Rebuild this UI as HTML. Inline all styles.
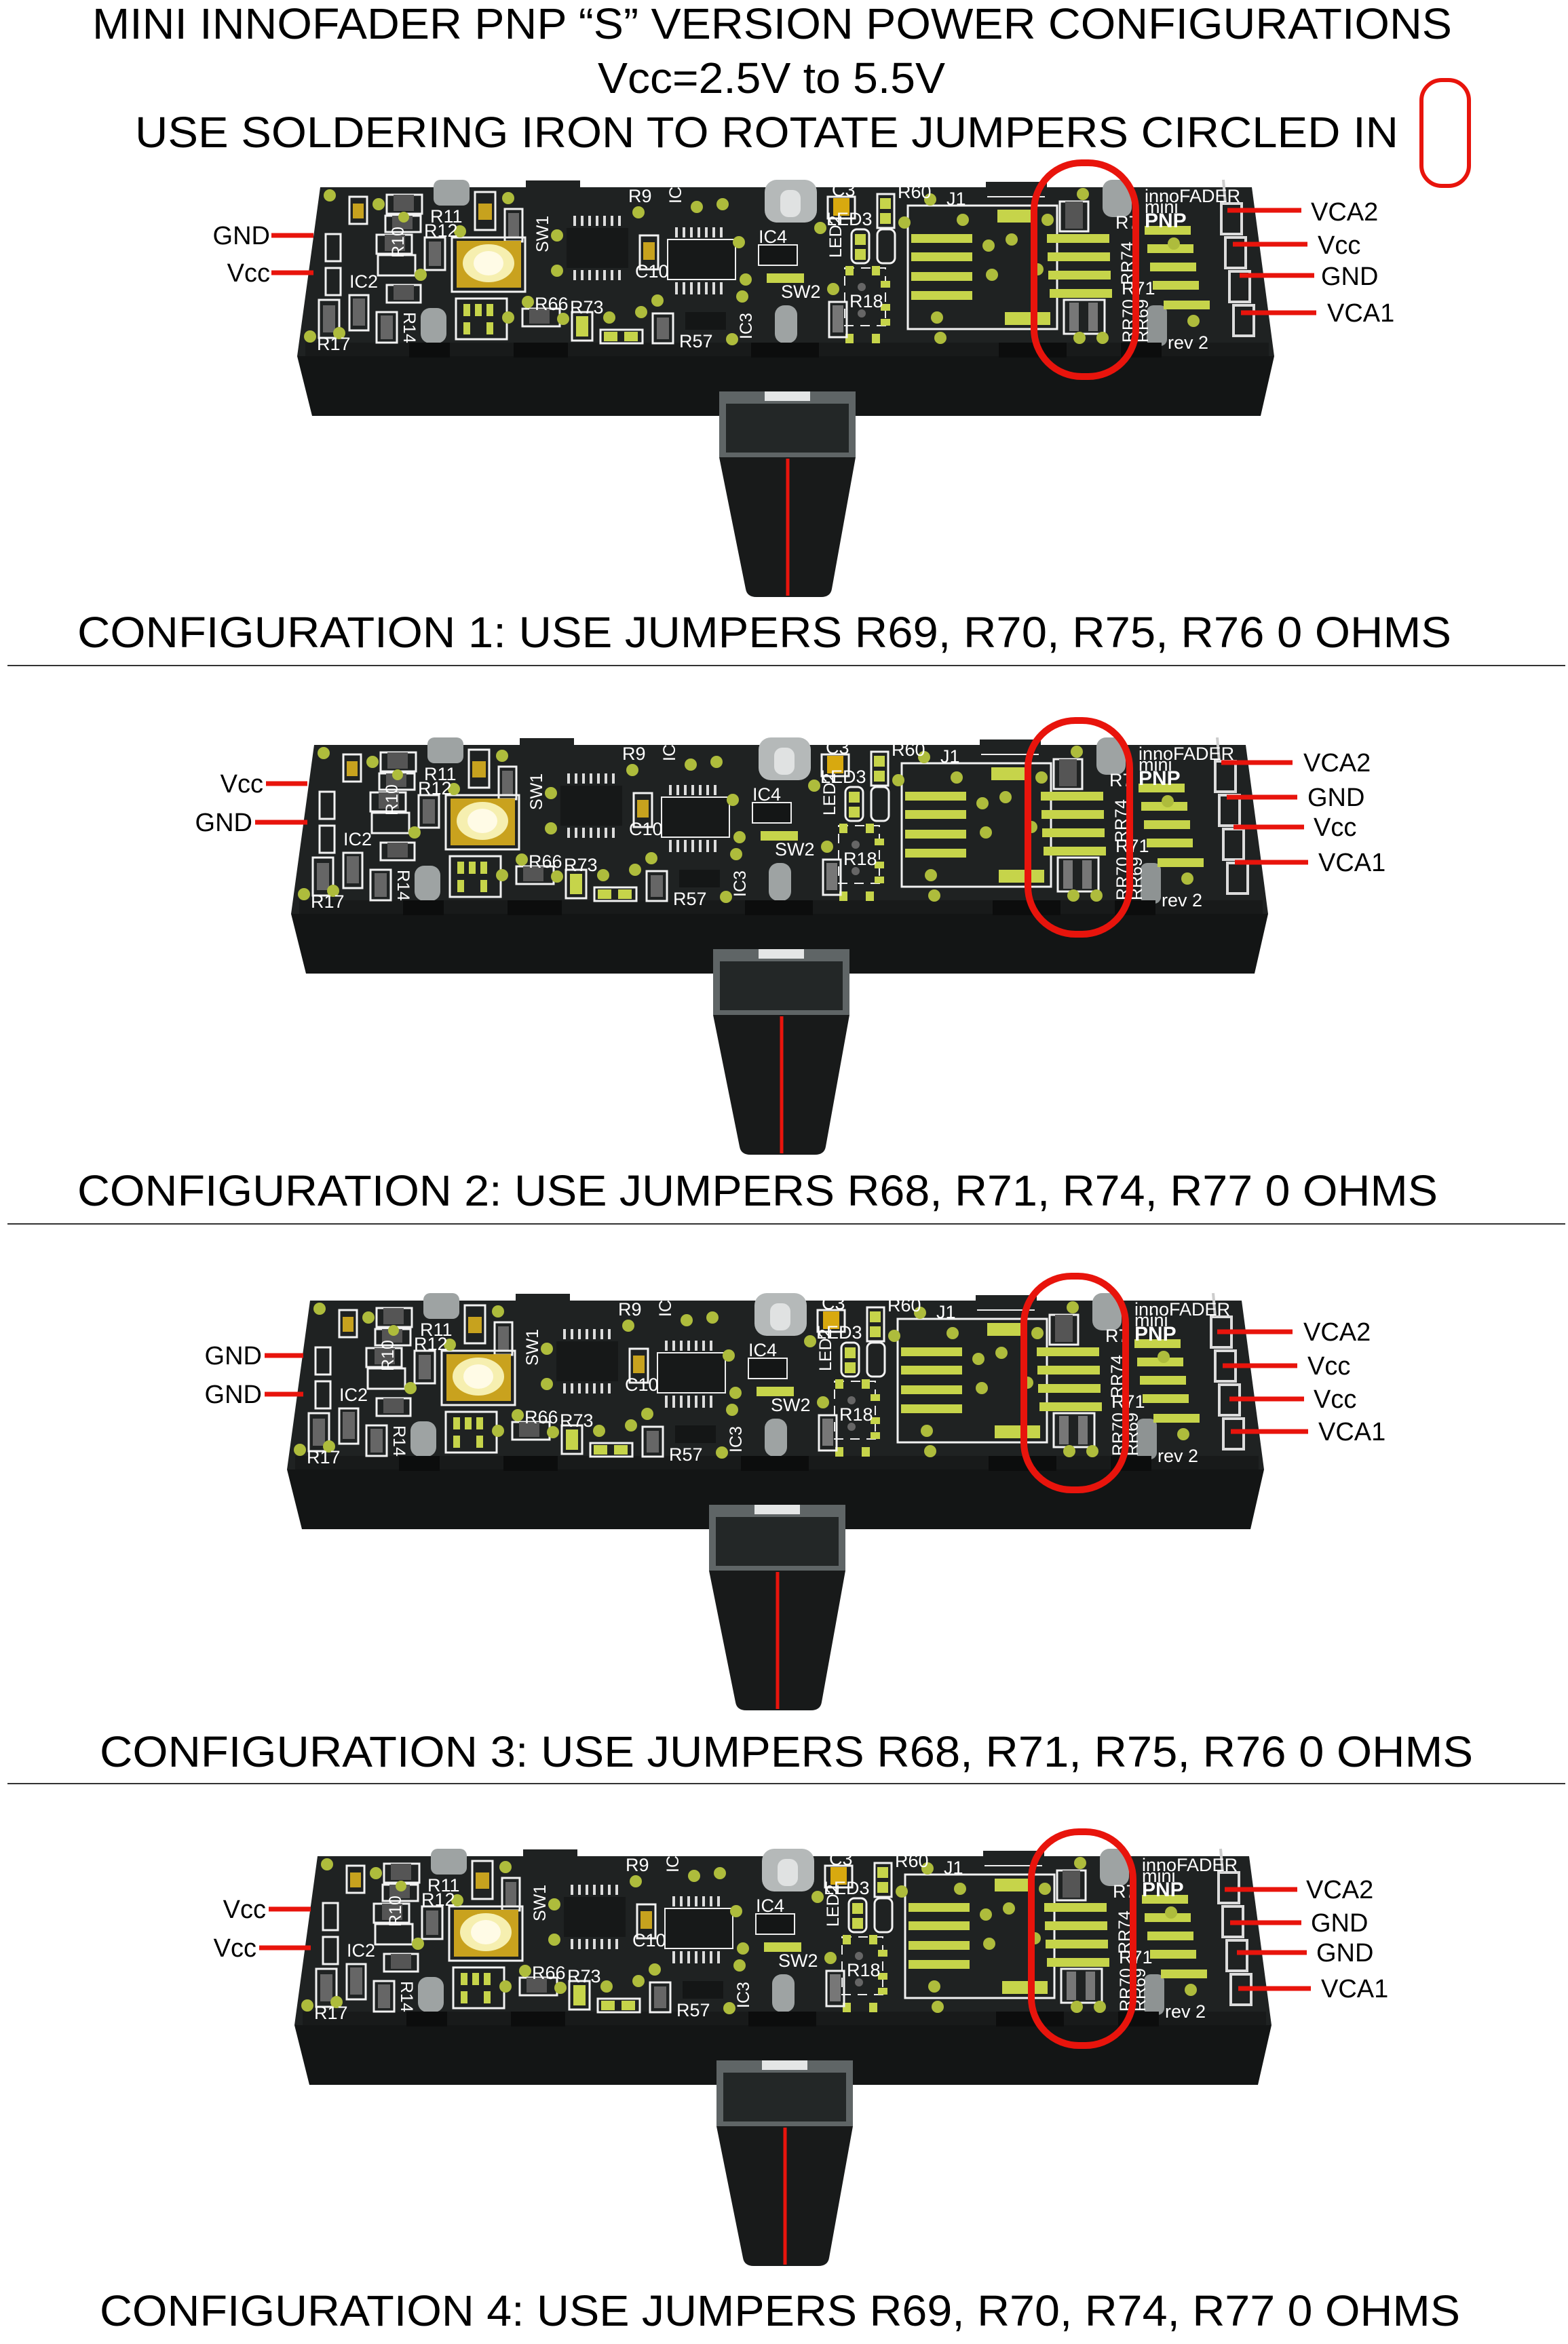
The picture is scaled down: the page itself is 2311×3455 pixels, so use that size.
<!DOCTYPE html>
<html><head><meta charset="utf-8"><style>
html,body{margin:0;padding:0;background:#fff;}
svg{display:block;}
text{font-family:"Liberation Sans",sans-serif;}
.t{font-size:64px;fill:#000;}
.lb{font-size:38px;fill:#000;}
.sk{font-size:27px;fill:#fff;font-family:"Liberation Mono",monospace;}
.dot{fill:#aebc3c;}
.pad{fill:#c6d44a;}
.wo{fill:none;stroke:#f2f2f2;stroke-width:3;}
.rl{stroke:#e8140c;stroke-width:7;}
</style></head><body>
<svg width="2311" height="3455" viewBox="0 0 2311 3455" xmlns="http://www.w3.org/2000/svg">
<defs>
<g id="board">
  <polygon points="438,525 1878,525 1858,613 460,613" fill="#131515"/>
  <polygon points="472,276 1845,276 1878,525 438,525" fill="#1f2222"/>
  <rect x="450" y="505" width="1420" height="20" fill="#181a1a"/>
  <rect x="775" y="266" width="80" height="12" fill="#1f2222"/>
  <rect x="1453" y="268" width="90" height="10" fill="#1f2222"/>
  <rect x="639" y="265" width="53" height="38" rx="10" fill="#9ea3a3"/>
  <rect x="1127" y="265" width="77" height="63" rx="18" fill="#b5b9b9"/>
  <rect x="1150" y="280" width="30" height="40" rx="12" fill="#e0e2e2"/>
  <rect x="1625" y="265" width="43" height="55" rx="14" fill="#9ea3a3"/>
  <rect x="620" y="454" width="38" height="52" rx="14" fill="#9ea3a3"/>
  <rect x="1142" y="450" width="33" height="56" rx="14" fill="#9ea3a3"/>
  <rect x="1690" y="450" width="30" height="60" rx="10" fill="#8e9393"/>
  <rect x="603" y="505" width="60" height="22" fill="#0c0d0d"/>
  <rect x="757" y="505" width="80" height="22" fill="#0c0d0d"/>
  <rect x="1107" y="505" width="100" height="22" fill="#0c0d0d"/>
  <rect x="1472" y="505" width="100" height="22" fill="#0c0d0d"/>
  <rect x="1652" y="505" width="60" height="22" fill="#0c0d0d"/>
  <rect x="480" y="345" width="22" height="40" class="wo"/>
  <rect x="480" y="395" width="22" height="40" class="wo"/>
  <rect x="1800" y="300" width="30" height="45" fill="none" stroke="#ddd" stroke-width="4"/>
  <rect x="1806" y="350" width="30" height="45" fill="none" stroke="#ddd" stroke-width="4"/>
  <rect x="1812" y="400" width="30" height="45" fill="none" stroke="#ddd" stroke-width="4"/>
  <rect x="1818" y="450" width="30" height="45" fill="none" stroke="#ddd" stroke-width="4"/>
  <line x1="1803" y1="265" x2="1806" y2="300" stroke="#ccc" stroke-width="4"/>
  <rect x="515" y="290" width="26" height="40" class="wo"/><rect x="520" y="300" width="16" height="22" fill="#c7a21e"/>
  <rect x="570" y="287" width="52" height="28" class="wo"/><rect x="580" y="287" width="30" height="24" fill="#555"/>
  <rect x="568" y="318" width="52" height="24" class="wo"/><rect x="578" y="318" width="30" height="20" fill="#555"/>
  <rect x="555" y="346" width="52" height="28" class="wo"/><rect x="567" y="346" width="30" height="24" fill="#555"/>
  <rect x="557" y="376" width="55" height="30" class="wo"/>
  <rect x="626" y="350" width="30" height="48" class="wo"/><rect x="632" y="356" width="18" height="36" fill="#666"/>
  <rect x="700" y="283" width="30" height="56" class="wo"/><rect x="705" y="300" width="20" height="24" fill="#c7a21e"/>
  <rect x="744" y="308" width="26" height="48" class="wo"/><rect x="749" y="314" width="16" height="36" fill="#666"/>
  <rect x="570" y="420" width="50" height="26" class="wo"/><rect x="580" y="420" width="30" height="22" fill="#555"/>
  <rect x="470" y="442" width="30" height="56" class="wo"/><rect x="476" y="450" width="18" height="40" fill="#666"/>
  <rect x="515" y="435" width="28" height="52" class="wo"/><rect x="520" y="440" width="18" height="40" fill="#666"/>
  <rect x="555" y="460" width="30" height="45" class="wo"/><rect x="561" y="465" width="18" height="35" fill="#666"/>
  <rect x="666" y="350" width="108" height="80" class="wo"/>
  <rect x="673" y="355" width="95" height="69" fill="#c9a21e"/>
  <ellipse cx="720" cy="388" rx="38" ry="28" fill="#f6efb0"/>
  <ellipse cx="720" cy="388" rx="22" ry="18" fill="#fffbe6"/>
  <rect x="672" y="440" width="75" height="60" class="wo"/>
  <rect x="683" y="448" width="10" height="18" class="pad"/><rect x="700" y="448" width="10" height="18" class="pad"/><rect x="717" y="448" width="10" height="18" class="pad"/>
  <rect x="683" y="475" width="10" height="18" class="pad"/><rect x="717" y="475" width="10" height="18" class="pad"/>
  <rect x="770" y="455" width="55" height="26" class="wo"/><rect x="780" y="455" width="30" height="22" fill="#555"/>
  <rect x="843" y="460" width="30" height="42" class="wo"/><rect x="849" y="466" width="18" height="30" class="pad"/>
  <rect x="885" y="486" width="62" height="20" class="wo"/><rect x="890" y="489" width="20" height="14" class="pad"/><rect x="920" y="489" width="20" height="14" class="pad"/>
  <rect x="962" y="462" width="30" height="44" class="wo"/><rect x="968" y="468" width="18" height="32" fill="#666"/>
  <rect x="835" y="336" width="91" height="59" fill="#161818"/>
  <g fill="#ddd"><rect x="845" y="318" width="4" height="15"/><rect x="856" y="318" width="4" height="15"/><rect x="867" y="318" width="4" height="15"/><rect x="878" y="318" width="4" height="15"/><rect x="889" y="318" width="4" height="15"/><rect x="900" y="318" width="4" height="15"/><rect x="911" y="318" width="4" height="15"/>
  <rect x="845" y="398" width="4" height="15"/><rect x="856" y="398" width="4" height="15"/><rect x="867" y="398" width="4" height="15"/><rect x="878" y="398" width="4" height="15"/><rect x="889" y="398" width="4" height="15"/><rect x="900" y="398" width="4" height="15"/><rect x="911" y="398" width="4" height="15"/></g>
  <rect x="943" y="347" width="27" height="50" class="wo"/><rect x="948" y="357" width="17" height="26" fill="#c7a21e"/>
  <rect x="984" y="353" width="100" height="59" fill="#171919" stroke="#eee" stroke-width="2"/>
  <g fill="#ddd"><rect x="995" y="335" width="4" height="15"/><rect x="1006" y="335" width="4" height="15"/><rect x="1017" y="335" width="4" height="15"/><rect x="1028" y="335" width="4" height="15"/><rect x="1039" y="335" width="4" height="15"/><rect x="1050" y="335" width="4" height="15"/><rect x="1061" y="335" width="4" height="15"/>
  <rect x="995" y="416" width="4" height="18"/><rect x="1006" y="416" width="4" height="18"/><rect x="1017" y="416" width="4" height="18"/><rect x="1028" y="416" width="4" height="18"/><rect x="1039" y="416" width="4" height="18"/><rect x="1050" y="416" width="4" height="18"/><rect x="1061" y="416" width="4" height="18"/></g>
  <rect x="1118" y="361" width="57" height="30" fill="#141616" stroke="#eee" stroke-width="2"/>
  <rect x="1130" y="403" width="55" height="14" class="pad"/>
  <rect x="1010" y="460" width="60" height="26" fill="#141616"/>
  <rect x="1220" y="290" width="40" height="32" class="wo"/><rect x="1228" y="292" width="24" height="26" fill="#d8a90f"/>
  <rect x="1293" y="286" width="25" height="50" class="wo"/><rect x="1297" y="292" width="16" height="16" class="pad"/><rect x="1297" y="314" width="16" height="16" class="pad"/>
  <rect x="1255" y="338" width="26" height="50" rx="8" class="wo"/><rect x="1260" y="345" width="16" height="16" class="pad"/><rect x="1260" y="367" width="16" height="16" class="pad"/>
  <rect x="1293" y="338" width="26" height="50" rx="8" class="wo"/>
  <rect x="1245" y="395" width="60" height="85" fill="none" stroke="#eee" stroke-width="2" stroke-dasharray="14 10"/>
  <rect x="1246" y="392" width="12" height="14" class="pad"/><rect x="1285" y="392" width="12" height="14" class="pad"/>
  <rect x="1298" y="414" width="14" height="10" class="pad"/><rect x="1298" y="448" width="14" height="10" class="pad"/><rect x="1298" y="470" width="14" height="10" class="pad"/>
  <rect x="1246" y="492" width="12" height="14" class="pad"/><rect x="1285" y="492" width="12" height="14" class="pad"/>
  <circle cx="1270" cy="423" r="6" fill="#666"/><circle cx="1270" cy="462" r="6" fill="#666"/>
  <rect x="1222" y="445" width="26" height="52" class="wo"/><rect x="1227" y="450" width="16" height="40" fill="#777"/>
  <rect x="1338" y="303" width="220" height="182" fill="none" stroke="#f2f2f2" stroke-width="3"/>
  <rect x="1343" y="345" width="90" height="13" class="pad"/><rect x="1343" y="372" width="90" height="13" class="pad"/>
  <rect x="1343" y="401" width="90" height="13" class="pad"/><rect x="1343" y="429" width="90" height="13" class="pad"/>
  <rect x="1470" y="309" width="55" height="19" class="pad"/><rect x="1481" y="460" width="67" height="19" class="pad"/>
  <line x1="1455" y1="290" x2="1540" y2="290" stroke="#eee" stroke-width="2"/>
  <rect x="1562" y="297" width="42" height="44" class="wo"/><rect x="1570" y="297" width="26" height="40" fill="#555"/>
  <rect x="1543" y="345" width="92" height="13" class="pad"/><rect x="1544" y="372" width="92" height="13" class="pad"/>
  <rect x="1545" y="399" width="92" height="13" class="pad"/><rect x="1547" y="426" width="92" height="13" class="pad"/>
  <rect x="1568" y="442" width="60" height="50" class="wo"/><rect x="1576" y="446" width="14" height="42" fill="#777"/><rect x="1604" y="446" width="14" height="42" fill="#777"/>
  <rect x="1687" y="333" width="68" height="13" class="pad"/><rect x="1691" y="360" width="68" height="13" class="pad"/>
  <rect x="1695" y="387" width="68" height="13" class="pad"/><rect x="1699" y="414" width="68" height="13" class="pad"/>
  <rect x="1715" y="443" width="68" height="13" class="pad"/>
  <g class="dot">
  <circle cx="486" cy="288" r="9"/><circle cx="558" cy="301" r="9"/><circle cx="749" cy="292" r="9"/><circle cx="678" cy="341" r="9"/>
  <circle cx="620" cy="405" r="9"/><circle cx="821" cy="347" r="9"/><circle cx="821" cy="399" r="9"/><circle cx="941" cy="313" r="9"/>
  <circle cx="1027" cy="305" r="9"/><circle cx="1065" cy="301" r="9"/><circle cx="1089" cy="357" r="9"/><circle cx="1099" cy="412" r="9"/>
  <circle cx="1094" cy="437" r="9"/><circle cx="969" cy="443" r="9"/><circle cx="898" cy="468" r="9"/><circle cx="945" cy="460" r="9"/>
  <circle cx="749" cy="468" r="9"/><circle cx="778" cy="445" r="9"/><circle cx="1079" cy="500" r="9"/><circle cx="1209" cy="336" r="9"/>
  <circle cx="1228" cy="426" r="9"/><circle cx="1333" cy="328" r="9"/><circle cx="1371" cy="294" r="9"/><circle cx="1419" cy="324" r="9"/>
  <circle cx="1491" cy="353" r="9"/><circle cx="1457" cy="362" r="9"/><circle cx="1462" cy="405" r="9"/><circle cx="1381" cy="468" r="9"/>
  <circle cx="1386" cy="498" r="9"/><circle cx="1544" cy="324" r="9"/><circle cx="1596" cy="286" r="9"/><circle cx="1529" cy="397" r="9"/>
  <circle cx="1591" cy="498" r="9"/><circle cx="1625" cy="498" r="9"/><circle cx="1730" cy="359" r="9"/><circle cx="1759" cy="473" r="9"/>
  <circle cx="457" cy="496" r="9"/><circle cx="500" cy="491" r="9"/><circle cx="595" cy="320" r="8"/><circle cx="830" cy="470" r="9"/>
  </g>
  <g class="sk">
  <text x="926" y="298">R9</text><text x="1118" y="358">IC4</text><text x="1151" y="439">SW2</text>
  <text x="1252" y="453">R18</text><text x="1323" y="292">R60</text><text x="1395" y="302">J1</text>
  <text x="1218" y="332">LED3</text><text x="1226" y="289">C3</text><text x="1001" y="512">R57</text>
  <text x="840" y="462">R73</text><text x="788" y="457">R66</text><text x="467" y="516">R17</text>
  <text x="515" y="424">IC2</text><text x="634" y="328">R11</text><text x="625" y="349">R12</text>
  <text x="936" y="409">C10</text><text x="1644" y="337">R7</text><text x="1653" y="434">R71</text>
  <text x="1687" y="298">innoFADER</text><text x="1687" y="314">mini</text>
  <text x="1721" y="514">rev 2</text>
  </g>
  <text x="1687" y="335" style="font-size:30px;fill:#fff;font-weight:bold;">PNP</text>
  <g class="sk" style="font-size:25px">
  <text transform="translate(595,380) rotate(-90)">R10</text>
  <text transform="translate(808,372) rotate(-90)">SW1</text>
  <text transform="translate(1004,300) rotate(-90)">IC18</text>
  <text transform="translate(595,460) rotate(90)">R14</text>
  <text transform="translate(1670,420) rotate(-90)">RR74</text>
  <text transform="translate(1672,505) rotate(-90)">RR70</text>
  <text transform="translate(1692,505) rotate(-90)">RR69</text>
  <text transform="translate(1108,500) rotate(-90)">IC3</text>
  <text transform="translate(1240,380) rotate(-90)">LED2</text>
  </g>
  <rect x="1060" y="577" width="201" height="97" fill="#5f6566"/>
  <rect x="1127" y="577" width="67" height="14" fill="#e4e6e6"/>
  <rect x="1070" y="595" width="181" height="72" fill="#232727"/>
  <path d="M1060,674 L1261,674 L1226,868 Q1224,880 1210,880 L1115,880 Q1101,880 1099,868 Z" fill="#181a1a"/>
  <line x1="1161" y1="676" x2="1161" y2="878" stroke="#e8140c" stroke-width="5"/>
  <rect x="1524" y="240" width="150" height="315" rx="70" fill="none" stroke="#e8140c" stroke-width="10"/>
</g>
</defs>

<text class="t" x="1138" y="57" text-anchor="middle" textLength="2004" lengthAdjust="spacingAndGlyphs">MINI INNOFADER PNP “S” VERSION POWER CONFIGURATIONS</text>
<text class="t" x="1137" y="137" text-anchor="middle" textLength="512" lengthAdjust="spacingAndGlyphs">Vcc=2.5V to 5.5V</text>
<text class="t" x="199" y="217" textLength="1862" lengthAdjust="spacingAndGlyphs">USE SOLDERING IRON TO ROTATE JUMPERS CIRCLED IN</text>
<rect x="2095" y="118" width="70" height="156" rx="30" fill="none" stroke="#e8140c" stroke-width="6"/>

<use href="#board"/>
<g class="lb">
<text x="398" y="360" text-anchor="end">GND</text><text x="398" y="415" text-anchor="end">Vcc</text>
<text x="1932" y="325">VCA2</text><text x="1942" y="374">Vcc</text><text x="1947" y="420">GND</text><text x="1956" y="474">VCA1</text>
</g>
<g class="rl">
<line x1="400" y1="347" x2="462" y2="347"/><line x1="400" y1="402" x2="462" y2="402"/>
<line x1="1809" y1="310" x2="1918" y2="310"/><line x1="1817" y1="360" x2="1927" y2="360"/>
<line x1="1827" y1="406" x2="1937" y2="406"/><line x1="1829" y1="461" x2="1940" y2="461"/>
</g>
<text class="t" x="114" y="954" textLength="2025" lengthAdjust="spacingAndGlyphs">CONFIGURATION 1: USE JUMPERS R69, R70, R75, R76  0 OHMS</text>
<line x1="11" y1="981" x2="2307" y2="981" stroke="#333" stroke-width="2"/>

<use href="#board" transform="translate(-9,822)"/>
<g class="lb">
<text x="388" y="1168" text-anchor="end">Vcc</text><text x="372" y="1225" text-anchor="end">GND</text>
<text x="1921" y="1137">VCA2</text><text x="1927" y="1188">GND</text><text x="1936" y="1232">Vcc</text><text x="1943" y="1284">VCA1</text>
</g>
<g class="rl">
<line x1="392" y1="1155" x2="453" y2="1155"/><line x1="376" y1="1212" x2="453" y2="1212"/>
<line x1="1800" y1="1124" x2="1905" y2="1124"/><line x1="1808" y1="1175" x2="1912" y2="1175"/>
<line x1="1818" y1="1219" x2="1922" y2="1219"/><line x1="1820" y1="1271" x2="1928" y2="1271"/>
</g>
<text class="t" x="114" y="1777" textLength="2005" lengthAdjust="spacingAndGlyphs">CONFIGURATION 2: USE JUMPERS R68, R71, R74, R77 0 OHMS</text>
<line x1="11" y1="1804" x2="2307" y2="1804" stroke="#333" stroke-width="2"/>

<use href="#board" transform="translate(-15,1641)"/>
<g class="lb">
<text x="386" y="2011" text-anchor="end">GND</text><text x="386" y="2068" text-anchor="end">GND</text>
<text x="1921" y="1976">VCA2</text><text x="1927" y="2026">Vcc</text><text x="1936" y="2075">Vcc</text><text x="1943" y="2123">VCA1</text>
</g>
<g class="rl">
<line x1="390" y1="1998" x2="447" y2="1998"/><line x1="390" y1="2055" x2="447" y2="2055"/>
<line x1="1794" y1="1963" x2="1905" y2="1963"/><line x1="1802" y1="2013" x2="1912" y2="2013"/>
<line x1="1812" y1="2062" x2="1922" y2="2062"/><line x1="1814" y1="2110" x2="1928" y2="2110"/>
</g>
<text class="t" x="147" y="2604" textLength="2024" lengthAdjust="spacingAndGlyphs">CONFIGURATION 3: USE JUMPERS R68, R71, R75, R76  0 OHMS</text>
<line x1="11" y1="2629" x2="2307" y2="2629" stroke="#333" stroke-width="2"/>

<use href="#board" transform="translate(-4,2460)"/>
<g class="lb">
<text x="392" y="2827" text-anchor="end">Vcc</text><text x="378" y="2884" text-anchor="end">Vcc</text>
<text x="1925" y="2798">VCA2</text><text x="1932" y="2847">GND</text><text x="1940" y="2891">GND</text><text x="1947" y="2944">VCA1</text>
</g>
<g class="rl">
<line x1="396" y1="2814" x2="458" y2="2814"/><line x1="382" y1="2871" x2="458" y2="2871"/>
<line x1="1805" y1="2785" x2="1912" y2="2785"/><line x1="1813" y1="2834" x2="1918" y2="2834"/>
<line x1="1823" y1="2878" x2="1926" y2="2878"/><line x1="1825" y1="2931" x2="1932" y2="2931"/>
</g>
<text class="t" x="147" y="3428" textLength="2005" lengthAdjust="spacingAndGlyphs">CONFIGURATION 4: USE JUMPERS R69, R70, R74, R77 0 OHMS</text>
</svg>
</body></html>
